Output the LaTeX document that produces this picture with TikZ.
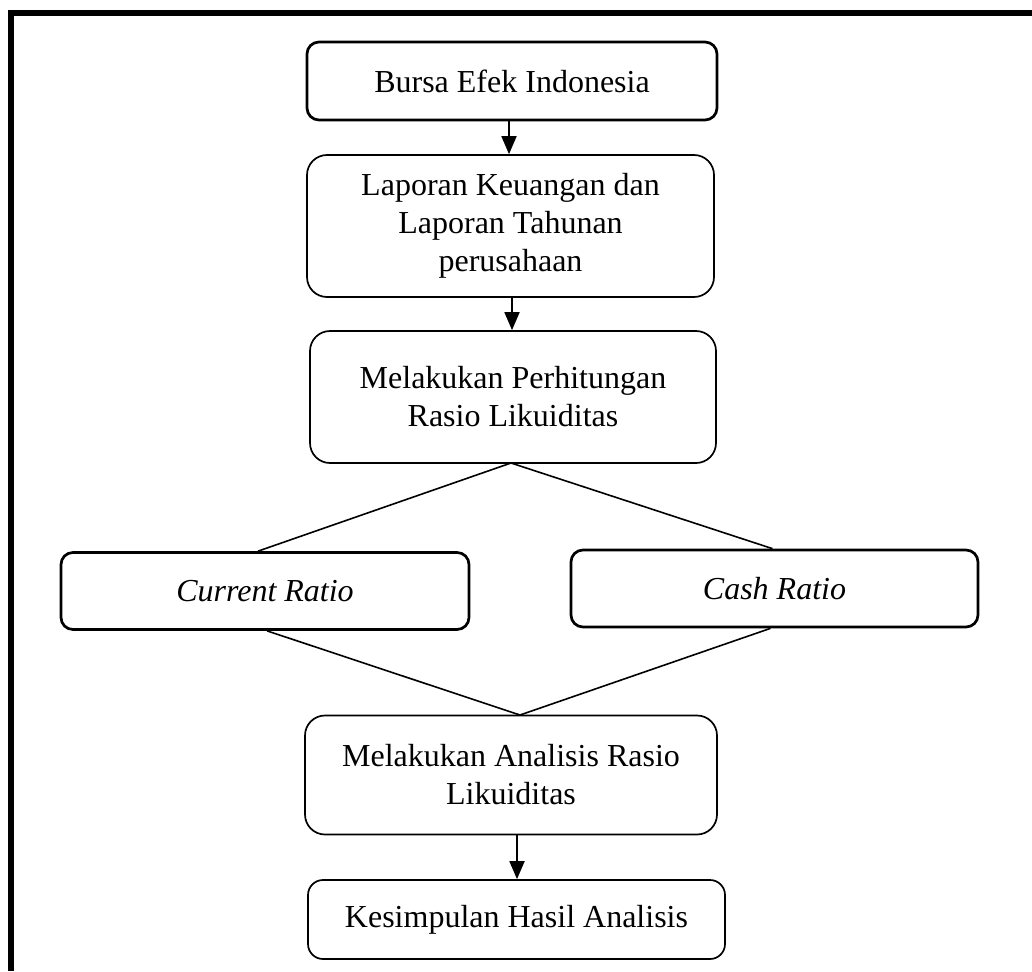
\documentclass[tikz,border=0pt]{standalone}
\usepackage{fontspec}
\setmainfont{Liberation Serif}
\usetikzlibrary{arrows.meta}
\tikzset{
  boxthick/.style={draw, line width=2.7pt, rounded corners=12pt, inner sep=0pt, align=center,
    font=\fontsize{32}{38}\selectfont},
  boxthin/.style={draw, line width=1.7pt, rounded corners=20pt, inner sep=0pt, align=center,
    font=\fontsize{32}{38}\selectfont},
  flow/.style={line width=1.8pt, -{Triangle[width=15pt,length=18pt]}},
  link/.style={line width=1.6pt},
}
\begin{document}
\begin{tikzpicture}[x=1pt,y=-1pt]
\useasboundingbox (0,0) rectangle (1032,971);
% outer frame (top and left only)
\draw[line width=6pt] (11,971) -- (11,13) -- (1032,13);

\node[boxthick, minimum width=410pt, minimum height=78pt] (bei) at (512,81) {Bursa Efek Indonesia};
\node[boxthin, minimum width=407pt, minimum height=142pt] (lap) at (510.5,226)
  {Laporan Keuangan dan\\Laporan Tahunan\\perusahaan};
\node[boxthin, minimum width=406pt, minimum height=132pt] (hit) at (513,397)
  {Melakukan Perhitungan\\Rasio Likuiditas};
\node[boxthick, minimum width=408pt, minimum height=77pt] (cur) at (265,591) {\itshape Current Ratio};
\node[boxthick, minimum width=407pt, minimum height=77pt] (cash) at (774.5,588.5) {\itshape Cash Ratio};
\node[boxthin, minimum width=412pt, minimum height=119pt] (ana) at (511,775)
  {Melakukan Analisis Rasio\\Likuiditas};
\node[boxthin, rounded corners=15pt, minimum width=417pt, minimum height=79pt] (kes) at (516.5,919.5)
  {Kesimpulan Hasil Analisis};

\coordinate (c1top) at (509,0);
\draw[flow] (bei.south -| c1top) -- (lap.north -| c1top);
\coordinate (c2top) at (512,0);
\draw[flow] (lap.south -| c2top) -- (hit.north -| c2top);
\coordinate (apex) at (511,463);
\draw[link] ([xshift=-7pt]cur.north) -- (apex) -- ([xshift=-2pt]cash.north);
\coordinate (meet) at (520,715);
\draw[link] ([xshift=2pt]cur.south) -- (meet) -- ([xshift=-4pt]cash.south);
\coordinate (c3top) at (517,0);
\draw[flow] (ana.south -| c3top) -- (kes.north -| c3top);
\end{tikzpicture}
\end{document}
